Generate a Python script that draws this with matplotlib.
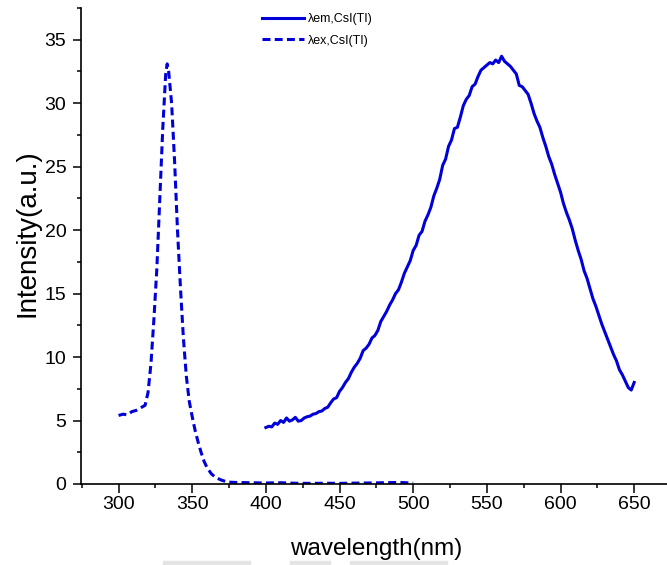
import numpy as np
import matplotlib
matplotlib.use("Agg")
import matplotlib.pyplot as plt
from matplotlib.patches import Rectangle
from matplotlib.ticker import MultipleLocator

plt.rcParams['font.family'] = ['Liberation Sans', 'DejaVu Sans']

# Emission spectrum of CsI(Tl), 2 nm sampling
em_wavelength = np.arange(400, 651, 2)
em_intensity = [
    4.45, 4.55, 4.50, 4.80, 4.70, 5.00, 4.85, 5.20, 4.95, 5.05,
    5.25, 4.95, 5.00, 5.20, 5.30, 5.35, 5.50, 5.55, 5.70, 5.75,
    5.95, 6.05, 6.40, 6.70, 6.80, 7.30, 7.60, 8.00, 8.30, 8.80,
    9.20, 9.50, 9.90, 10.5, 10.7, 11.0, 11.5, 11.7, 12.1, 12.8,
    13.2, 13.6, 14.1, 14.5, 15.0, 15.3, 15.9, 16.6, 17.1, 17.6,
    18.4, 18.8, 19.6, 19.9, 20.7, 21.2, 21.8, 22.7, 23.3, 24.0,
    25.1, 25.6, 26.6, 27.1, 28.0, 28.1, 28.9, 29.8, 30.3, 30.6,
    31.3, 31.5, 32.1, 32.6, 32.8, 33.0, 33.2, 33.1, 33.4, 33.2,
    33.7, 33.3, 33.1, 32.9, 32.6, 32.3, 31.4, 31.3, 31.0, 30.7,
    30.0, 29.2, 28.6, 28.1, 27.3, 26.6, 25.8, 25.2, 24.4, 23.7,
    23.0, 22.1, 21.4, 20.8, 20.1, 19.2, 18.4, 17.7, 16.8, 16.2,
    15.4, 14.6, 14.0, 13.3, 12.6, 12.0, 11.4, 10.8, 10.2, 9.70,
    9.00, 8.60, 8.10, 7.60, 7.40, 8.00,
]

# Excitation spectrum of CsI(Tl)
ex_wavelength = [
    300, 303, 306, 309, 312, 315, 318, 320, 322, 324, 326, 328, 330, 332,
    333, 334, 336, 338, 340, 342, 344, 346, 348, 350, 352, 354, 356, 358,
    360, 363, 366, 370, 374, 380, 390, 400, 410, 420, 430, 440, 450, 460,
    470, 480, 490, 500,
]
ex_intensity = [
    5.40, 5.50, 5.45, 5.70, 5.80, 6.00, 6.20, 7.20, 9.50, 13.0, 17.0, 22.5, 28.0, 32.3,
    33.1, 32.5, 30.0, 25.5, 20.0, 15.5, 11.5, 8.50, 6.50, 5.30, 4.20, 3.30, 2.50, 1.80,
    1.30, 0.80, 0.50, 0.30, 0.15, 0.12, 0.10, 0.08, 0.10, 0.06, 0.05, 0.06, 0.05, 0.07,
    0.08, 0.10, 0.12, 0.08,
]

legend_labels = ["λem,CsI(TI)", "λex,CsI(TI)"]
line_color = "#0000D8"

fig = plt.figure(figsize=(6.67, 5.65), dpi=100)
ax = fig.add_axes([81 / 667, 81 / 565, 590 / 667, 476 / 565])

ax.plot(em_wavelength, em_intensity, color=line_color, lw=2.2,
        solid_joinstyle="round", label=legend_labels[0])
ax.plot(ex_wavelength, ex_intensity, color=line_color, lw=2.2,
        dashes=(2.6, 1.4), label=legend_labels[1])

ax.set_xlim(274.5, 675)
ax.set_ylim(0, 37.5)
ax.xaxis.set_major_locator(MultipleLocator(50))
ax.xaxis.set_minor_locator(MultipleLocator(25))
ax.yaxis.set_major_locator(MultipleLocator(5))
ax.yaxis.set_minor_locator(MultipleLocator(2.5))

for side in ("top", "right"):
    ax.spines[side].set_visible(False)
for side in ("left", "bottom"):
    ax.spines[side].set_linewidth(1.2)

ax.tick_params(axis="x", which="major", direction="out", length=6.5, width=1.1,
               labelsize=14, pad=2)
ax.tick_params(axis="x", which="minor", direction="out", length=3.2, width=1.1)
ax.tick_params(axis="y", which="major", direction="out", length=5.5, width=1.1,
               labelsize=14, pad=5)
ax.tick_params(axis="y", which="minor", direction="out", length=3, width=1.1)

ax.set_xlabel("wavelength(nm)", fontsize=17.5, labelpad=18)
ax.set_ylabel("Intensity(a.u.)", fontsize=20, labelpad=3)
ax.yaxis.label.set_y(0.527)

leg = ax.legend(loc="upper left", bbox_to_anchor=(0.387, 0.983),
                bbox_transform=fig.transFigure, frameon=False, fontsize=9,
                handlelength=3.4, handletextpad=0.25, labelspacing=0.75,
                borderpad=0.3, borderaxespad=0)

# faint strips along the bottom edge
for x0, x1 in [(163, 250), (290, 330), (350, 447)]:
    fig.patches.append(Rectangle((x0 / 667, 0), (x1 - x0) / 667, 4 / 565,
                                 transform=fig.transFigure, color="#e4e4e4",
                                 zorder=0))

fig.savefig("out.png", dpi=100)
